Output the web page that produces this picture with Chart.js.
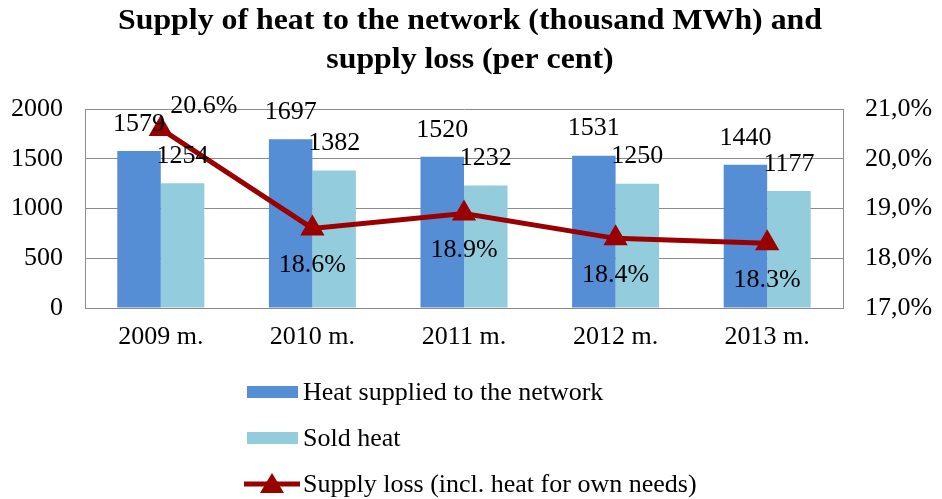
<!DOCTYPE html>
<html><head><meta charset="utf-8">
<script src="https://cdn.jsdelivr.net/npm/chart.js@4"></script>
<style>html,body{margin:0;padding:0;background:#fff}#wrap{width:942px;height:499px}</style>
</head><body><div id="wrap"><canvas id="c" width="942" height="499"></canvas></div>
<script>
const categories = ['2009 m.', '2010 m.', '2011 m.', '2012 m.', '2013 m.'];
const heatSupplied = [1579, 1697, 1520, 1531, 1440];
const soldHeat = [1254, 1382, 1232, 1250, 1177];
const supplyLoss = [20.6, 18.6, 18.9, 18.4, 18.3];
const titleLines = ['Supply of heat to the network (thousand MWh) and', 'supply loss (per cent)'];
const seriesNames = ['Heat supplied to the network', 'Sold heat', 'Supply loss (incl. heat for own needs)'];

const SERIF = '"Liberation Serif", "Times New Roman", serif';
const BLUE = '#558ED5', LIGHT = '#93CDDD', RED = '#990000', GRID = '#8c8c8c';

const customPlugin = {
  id: 'custom',
  afterDraw(chart) {
    const ctx = chart.ctx;
    ctx.save();
    // title (slightly condensed to match the reference width)
    ctx.fillStyle = '#000';
    ctx.textAlign = 'center';
    ctx.textBaseline = 'alphabetic';
    ctx.font = 'bold 30px ' + SERIF;
    const w = ctx.measureText(titleLines[0]).width;
    const sx = 704 / w;
    ctx.save();
    ctx.translate(470, 0);
    ctx.scale(sx, 1);
    ctx.fillText(titleLines[0], 0, 29);
    ctx.fillText(titleLines[1], 0, 68);
    ctx.restore();
    // bar labels
    ctx.textBaseline = 'middle';
    ctx.font = '26px ' + SERIF;
    [0, 1].forEach(di => {
      const meta = chart.getDatasetMeta(di);
      meta.data.forEach((el, i) => {
        const v = chart.data.datasets[di].data[i];
        ctx.fillText(String(v), el.x, el.y - 27);
      });
    });
    // line labels
    const lm = chart.getDatasetMeta(2);
    lm.data.forEach((el, i) => {
      const v = supplyLoss[i].toFixed(1) + '%';
      if (i === 0) ctx.fillText(v, el.x + 43, el.y - 23);
      else ctx.fillText(v, el.x, el.y + 37);
    });
    // legend
    ctx.textAlign = 'left';
    ctx.font = '26px ' + SERIF;
    const lx = 247, ys = [392, 438, 484];
    ctx.fillStyle = BLUE; ctx.fillRect(lx, ys[0] - 6, 51, 12);
    ctx.fillStyle = LIGHT; ctx.fillRect(lx, ys[1] - 6, 51, 12);
    ctx.strokeStyle = RED; ctx.lineWidth = 5;
    ctx.beginPath(); ctx.moveTo(lx - 3, ys[2]); ctx.lineTo(lx + 53, ys[2]); ctx.stroke();
    ctx.fillStyle = RED;
    ctx.beginPath(); ctx.moveTo(lx + 25, ys[2] - 11); ctx.lineTo(lx + 37, ys[2] + 9); ctx.lineTo(lx + 13, ys[2] + 9); ctx.closePath(); ctx.fill();
    ctx.fillStyle = '#000';
    seriesNames.forEach((n, i) => ctx.fillText(n, 303, ys[i] + 1));
    ctx.restore();
  }
};

new Chart(document.getElementById('c'), {
  data: {
    labels: categories,
    datasets: [
      { type: 'bar', label: seriesNames[0], data: heatSupplied, backgroundColor: BLUE, yAxisID: 'y', categoryPercentage: 0.574, barPercentage: 1, order: 2 },
      { type: 'bar', label: seriesNames[1], data: soldHeat, backgroundColor: LIGHT, yAxisID: 'y', categoryPercentage: 0.574, barPercentage: 1, order: 2 },
      { type: 'line', label: seriesNames[2], data: supplyLoss, borderColor: RED, backgroundColor: RED, borderWidth: 5, pointStyle: 'triangle', pointRadius: 14, pointBorderWidth: 0, pointBackgroundColor: RED, yAxisID: 'y1', tension: 0, order: 1 }
    ]
  },
  options: {
    responsive: false,
    animation: false,
    events: [],
    layout: { padding: { top: 109, bottom: 141, left: 0, right: 0 } },
    plugins: { legend: { display: false }, title: { display: false }, tooltip: { enabled: false } },
    scales: {
      x: {
        grid: { display: false, drawTicks: false },
        border: { display: true, color: GRID, width: 1 },
        ticks: { color: '#000', font: { family: SERIF, size: 26 }, padding: 14 },
        afterFit(s) { s.height = 50; }
      },
      y: {
        position: 'left', min: 0, max: 2000,
        ticks: { stepSize: 500, color: '#000', font: { family: SERIF, size: 26 }, padding: 22,
          callback: v => String(v) },
        grid: { color: GRID, drawTicks: false },
        border: { display: true, color: GRID },
        afterFit(s) { s.width = 85; }
      },
      y1: {
        position: 'right', min: 17, max: 21,
        ticks: { stepSize: 1, color: '#000', font: { family: SERIF, size: 26 }, padding: 22,
          callback: v => v.toFixed(1).replace('.', ',') + '%' },
        grid: { display: false, drawTicks: false },
        border: { display: true, color: GRID },
        afterFit(s) { s.width = 99; }
      }
    }
  },
  plugins: [customPlugin]
});
</script></body></html>
